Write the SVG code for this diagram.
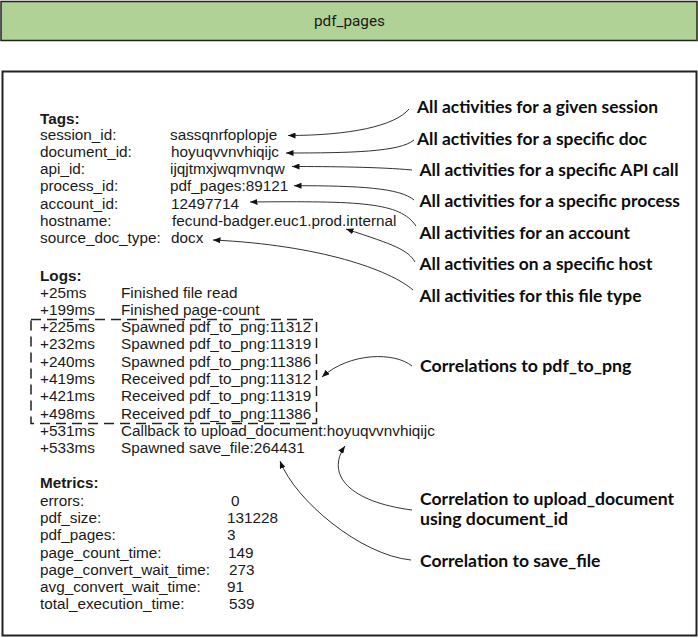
<svg xmlns="http://www.w3.org/2000/svg" width="698" height="638" viewBox="0 0 698 638">
<defs>
<marker id="ah" markerWidth="8" markerHeight="6" refX="7.5" refY="3" orient="auto" markerUnits="userSpaceOnUse"><path d="M0,0 L7.5,3 L0,6 z" fill="#111"/></marker>
<style>
.t{font-family:"Liberation Sans",Arial,sans-serif;font-size:15.3px;fill:#1a1a1a}
.b{font-weight:bold}
.a{font-family:Lato,"Open Sans",sans-serif;font-weight:bold;font-size:17.4px;fill:#0d0d0d}
.c{fill:none;stroke:#333;stroke-width:1}
</style>
</defs>
<rect width="698" height="638" fill="#fff"/>
<g id="title">
<rect x="1" y="1.5" width="696" height="39" fill="#b0d296" stroke="#222" stroke-width="1.5"/>
<text x="349.5" y="26" text-anchor="middle" font-family="Roboto,'Liberation Sans',sans-serif" font-size="15.3" fill="#1a1a1a">pdf_pages</text>
</g>
<g id="panel">
<rect x="2.5" y="71.5" width="694" height="564" fill="none" stroke="#222" stroke-width="2"/>
</g>
<g id="tags">
<text x="40" y="124" class="t b">Tags:</text>
<text x="40" y="139.5" class="t">session_id:</text><text x="170" y="139.5" class="t">sassqnrfoplopje</text>
<text x="40" y="156.8" class="t">document_id:</text><text x="171" y="156.8" class="t">hoyuqvvnvhiqijc</text>
<text x="40" y="174.1" class="t">api_id:</text><text x="170" y="174.1" class="t">ijqjtmxjwqmvnqw</text>
<text x="40" y="191.4" class="t">process_id:</text><text x="170" y="191.4" class="t">pdf_pages:89121</text>
<text x="40" y="208.7" class="t">account_id:</text><text x="171" y="208.7" class="t">12497714</text>
<text x="40" y="226" class="t">hostname:</text><text x="172" y="226" class="t">fecund-badger.euc1.prod.internal</text>
<text x="40" y="243.3" class="t">source_doc_type:</text><text x="171" y="243.3" class="t">docx</text>
</g>
<g id="logs">
<text x="40" y="280.7" class="t b">Logs:</text>
<text x="40" y="297.5" class="t">+25ms</text><text x="121" y="297.5" class="t">Finished file read</text>
<text x="40" y="314.8" class="t">+199ms</text><text x="121" y="314.8" class="t">Finished page-count</text>
<text x="40" y="332.1" class="t">+225ms</text><text x="121" y="332.1" class="t">Spawned pdf_to_png:11312</text>
<text x="40" y="349.4" class="t">+232ms</text><text x="121" y="349.4" class="t">Spawned pdf_to_png:11319</text>
<text x="40" y="366.7" class="t">+240ms</text><text x="121" y="366.7" class="t">Spawned pdf_to_png:11386</text>
<text x="40" y="384" class="t">+419ms</text><text x="121" y="384" class="t">Received pdf_to_png:11312</text>
<text x="40" y="401.3" class="t">+421ms</text><text x="121" y="401.3" class="t">Received pdf_to_png:11319</text>
<text x="40" y="418.6" class="t">+498ms</text><text x="121" y="418.6" class="t">Received pdf_to_png:11386</text>
<text x="40" y="435.9" class="t">+531ms</text><text x="121" y="435.9" class="t">Callback to upload_document:hoyuqvvnvhiqijc</text>
<text x="40" y="453.2" class="t">+533ms</text><text x="121" y="453.2" class="t">Spawned save_file:264431</text>
</g>
<g id="pdf_to_png_group">
<rect x="31" y="319.5" width="285.5" height="104" fill="none" stroke="#222" stroke-width="1.5" stroke-dasharray="10 6"/>
</g>
<g id="metrics">
<text x="40" y="488.3" class="t b">Metrics:</text>
<text x="40" y="505.6" class="t">errors:</text><text x="231" y="505.6" class="t">0</text>
<text x="40" y="522.9" class="t">pdf_size:</text><text x="227" y="522.9" class="t">131228</text>
<text x="40" y="540.2" class="t">pdf_pages:</text><text x="227" y="540.2" class="t">3</text>
<text x="40" y="557.5" class="t">page_count_time:</text><text x="228" y="557.5" class="t">149</text>
<text x="40" y="574.8" class="t">page_convert_wait_time:</text><text x="229" y="574.8" class="t">273</text>
<text x="40" y="592.1" class="t">avg_convert_wait_time:</text><text x="227" y="592.1" class="t">91</text>
<text x="40" y="609.4" class="t">total_execution_time:</text><text x="229" y="609.4" class="t">539</text>
</g>
<g id="annotations">
<text id="note-session" x="417" y="113.3" class="a" textLength="241" lengthAdjust="spacingAndGlyphs">All activities for a given session</text>
<text id="note-doc" x="417" y="144.7" class="a" textLength="230" lengthAdjust="spacingAndGlyphs">All activities for a specific doc</text>
<text id="note-api" x="419.5" y="176" class="a" textLength="259" lengthAdjust="spacingAndGlyphs">All activities for a specific API call</text>
<text id="note-process" x="419.5" y="207.4" class="a" textLength="260.5" lengthAdjust="spacingAndGlyphs">All activities for a specific process</text>
<text id="note-account" x="419.5" y="238.8" class="a" textLength="210.5" lengthAdjust="spacingAndGlyphs">All activities for an account</text>
<text id="note-host" x="419.5" y="270.2" class="a" textLength="233" lengthAdjust="spacingAndGlyphs">All activities on a specific host</text>
<text id="note-filetype" x="419.5" y="301.6" class="a" textLength="222" lengthAdjust="spacingAndGlyphs">All activities for this file type</text>
<text id="note-png" x="420" y="372" class="a" textLength="211.5" lengthAdjust="spacingAndGlyphs">Correlations to pdf_to_png</text>
<text id="note-upload" x="420" y="505" class="a" textLength="254" lengthAdjust="spacingAndGlyphs">Correlation to upload_document</text>
<text id="note-upload2" x="420" y="525" class="a" textLength="148" lengthAdjust="spacingAndGlyphs">using document_id</text>
<text id="note-save" x="420" y="567" class="a" textLength="180.5" lengthAdjust="spacingAndGlyphs">Correlation to save_file</text>
</g>
<g id="connectors">
<path class="c" marker-end="url(#ah)" d="M409,109 C395,126 350,135.5 288,135.5"/>
<path class="c" marker-end="url(#ah)" d="M414,140 C400,152 350,153 286,153"/>
<path class="c" marker-end="url(#ah)" d="M412,170 C380,167 330,166.5 292,166.5"/>
<path class="c" marker-end="url(#ah)" d="M414,200 C400,188 360,185.7 294,185.7"/>
<path class="c" marker-end="url(#ah)" d="M416,226 C400,202 360,201 250,202"/>
<path class="c" marker-end="url(#ah)" d="M415,262 C408,250 395,245 346,229"/>
<path class="c" marker-end="url(#ah)" d="M413,290 C390,270 320,245 213,240"/>
<path class="c" marker-end="url(#ah)" d="M412,366 C395,352 350,352 322,377"/>
<path class="c" marker-end="url(#ah)" d="M412,510 C350,502 325,475 345,446"/>
<path class="c" marker-end="url(#ah)" d="M411,560 C360,555 295,500 280,461"/>
</g>
</svg>
